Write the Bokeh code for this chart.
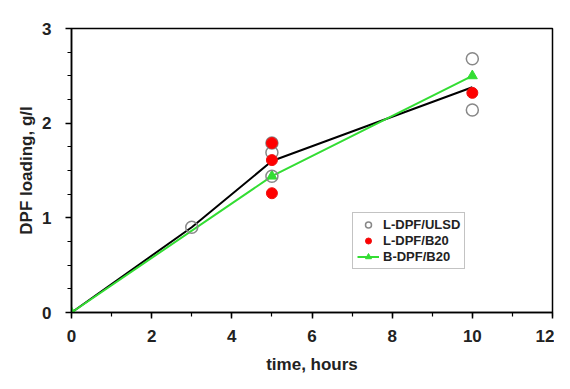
from bokeh.plotting import figure
from bokeh.models import Range1d, FixedTicker, Legend, LegendItem
from bokeh.embed import file_html
from bokeh.resources import INLINE

# Data
ulsd_x = [3, 5, 5, 5, 10, 10]
ulsd_y = [0.90, 1.79, 1.69, 1.44, 2.68, 2.14]

b20_x = [5, 5, 5, 10]
b20_y = [1.79, 1.61, 1.26, 2.32]

ldpf_fit_x = [0, 3, 5, 10]
ldpf_fit_y = [0, 0.90, 1.60, 2.38]

bdpf_x = [0, 5, 10]
bdpf_y = [0, 1.44, 2.50]

x_ticks = [0, 2, 4, 6, 8, 10, 12]
y_ticks = [0, 1, 2, 3]

FONT = "Liberation Sans"

p = figure(width=554, height=381, output_backend="svg", toolbar_location=None,
           x_range=Range1d(0, 12), y_range=Range1d(0, 3),
           min_border_left=71, min_border_right=2, min_border_top=28, min_border_bottom=69)
p.xgrid.visible = False
p.ygrid.visible = False
p.outline_line_color = "black"
p.outline_line_width = 1.5
p.background_fill_color = "white"
p.border_fill_color = "white"

p.xaxis.ticker = FixedTicker(ticks=x_ticks, minor_ticks=list(range(0, 13)))
p.yaxis.ticker = FixedTicker(ticks=y_ticks, minor_ticks=[i * 0.25 for i in range(13)])

for ax in (p.xaxis[0], p.yaxis[0]):
    ax.axis_line_width = 1.5
    ax.axis_line_color = "black"
    ax.major_tick_in = 0
    ax.major_tick_out = 6
    ax.minor_tick_in = 0
    ax.minor_tick_out = 4
    ax.major_tick_line_width = 1.5
    ax.minor_tick_line_width = 1.2
    ax.major_label_text_font = FONT
    ax.major_label_text_font_style = "bold"
    ax.major_label_text_font_size = "17px"
    ax.major_label_text_color = "#222222"
    ax.axis_label_text_font = FONT
    ax.axis_label_text_font_style = "bold"
    ax.axis_label_text_font_size = "17px"
    ax.axis_label_text_color = "#222222"

p.xaxis.axis_label = "time, hours"
p.yaxis.axis_label = "DPF loading, g/l"
p.xaxis.major_label_standoff = 11
p.xaxis.axis_label_standoff = 10
p.yaxis.major_label_standoff = 14
p.yaxis.axis_label_standoff = 3

# lines
p.line(ldpf_fit_x, ldpf_fit_y, line_color="black", line_width=2)
g_line = p.line(bdpf_x, bdpf_y, line_color="#33dd33", line_width=2)
g_mark = p.scatter(bdpf_x, bdpf_y, marker="triangle", size=10, fill_color="#33dd33",
                   line_color="#33dd33")

# points
u = p.scatter(ulsd_x, ulsd_y, marker="circle", size=12, fill_color="white", fill_alpha=0.0,
              line_color="#888888", line_width=1.5)
r = p.scatter(b20_x, b20_y, marker="circle", size=11, fill_color="#ff0000",
              line_color="#ee1111", line_width=1)

legend = Legend(items=[
    LegendItem(label="L-DPF/ULSD", renderers=[u]),
    LegendItem(label="L-DPF/B20", renderers=[r]),
    LegendItem(label="B-DPF/B20", renderers=[g_line, g_mark]),
], location=(281, 43))
legend.label_text_font = FONT
legend.label_text_font_style = "bold"
legend.label_text_font_size = "13px"
legend.label_text_color = "#222222"
legend.border_line_color = "#888888"
legend.border_line_width = 1
legend.glyph_width = 22
legend.glyph_height = 15
legend.label_height = 15
legend.label_standoff = 4
legend.spacing = 1
legend.padding = 4
legend.margin = 0
legend.background_fill_alpha = 1.0
p.add_layout(legend, "center")

open("out.html", "w").write(file_html(p, INLINE))
